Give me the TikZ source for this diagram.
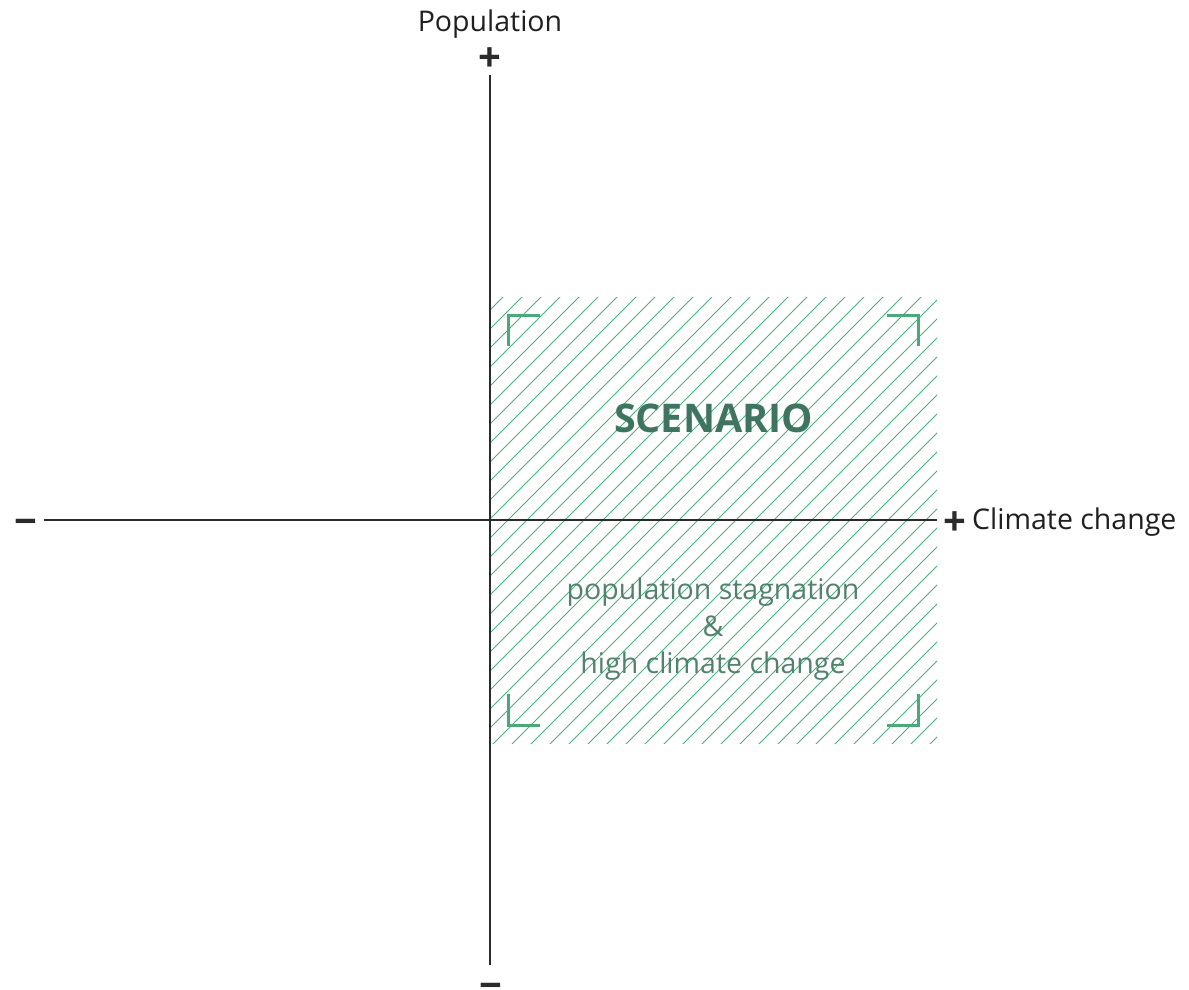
\documentclass[tikz,border=0pt]{standalone}
\usepackage{fontspec}
\setmainfont{Open Sans}
\definecolor{axisc}{HTML}{2B2B2B}
\definecolor{hatchc}{HTML}{4DAE7E}
\definecolor{cornerc}{HTML}{4AA87A}
\definecolor{titlec}{HTML}{3F7560}
\definecolor{subc}{HTML}{52826C}
\begin{document}
\begin{tikzpicture}[x=1pt,y=1pt,
  axis/.style={draw=axisc,line width=1.3pt},
  hatch/.style={draw=hatchc,line width=0.9pt},
  corner/.style={draw=cornerc,line width=3pt},
  sign/.style={text=axisc,font=\fontsize{40}{40}\selectfont\bfseries,inner sep=0pt,anchor=base},
  label/.style={text=black!88,font=\fontsize{28.5}{32}\selectfont,inner sep=0pt,anchor=base},
  title/.style={text=titlec,font=\fontsize{39.5}{44}\selectfont\bfseries,inner sep=0pt,anchor=base},
  sub/.style={text=subc,font=\fontsize{28.5}{37}\selectfont,align=center,inner sep=0pt}]
\useasboundingbox (0,0) rectangle (1189,-989);
% hatched scenario region
\begin{scope}
  \clip (490,-297) rectangle (937,-743);
  \foreach \k in {0,...,48} {
    \draw[hatch] (480,{480-800-19*\k}) -- (947,{947-800-19*\k});
  }
\end{scope}
% corner marks
\draw[corner] (508,-346) -- (508,-315) -- (540,-315);
\draw[corner] (887,-315) -- (918,-315) -- (918,-346);
\draw[corner] (508,-694) -- (508,-725) -- (540,-725);
\draw[corner] (887,-725) -- (918,-725) -- (918,-694);
% axes
\coordinate (vtop) at (490,-75);
\coordinate (vbot) at (490,-965);
\coordinate (hleft) at (44,-520);
\coordinate (hright) at (937,-520);
\draw[axis] (vtop) -- (vbot);
\draw[axis] (hleft) -- (hright);
% signs and labels
\node[sign] (pplus) at (490,-71.5) {+};
\node[sign] (pminus) at (490.5,-999) {−};
\node[sign] (cminus) at (26,-535) {−};
\node[sign] (cplus) at (954.5,-535.5) {+};
\node[label] (poplab) at (490,-31) {Population};
\node[label,anchor=base west] (climlab) at (972,-529) {Climate change};
% scenario texts
\node[title] (scen) at (713.5,-432) {SCENARIO};
\node[sub] (desc) at (713,-629) {population stagnation\\\&\\high climate change};
\end{tikzpicture}
\end{document}
